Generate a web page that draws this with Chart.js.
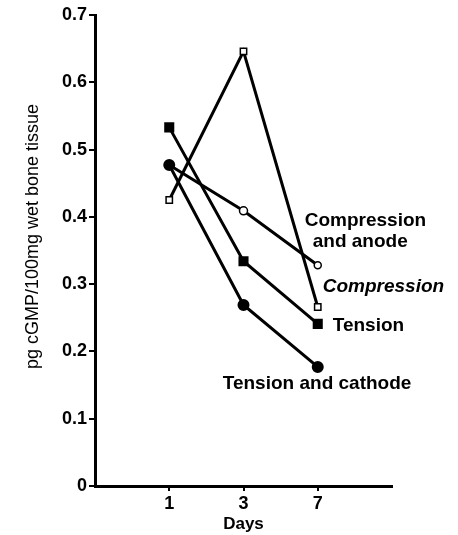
<!DOCTYPE html>
<html>
<head>
<meta charset="utf-8">
<script src="https://cdn.jsdelivr.net/npm/chart.js@4"></script>
<style>
  body { margin: 0; background: #fff; }
</style>
</head>
<body>
<canvas id="chart" width="458" height="535"></canvas>
<script>
// days after loading (plotted evenly spaced)
const days = ["1", "3", "7"];
const yTicks = [0, 0.1, 0.2, 0.3, 0.4, 0.5, 0.6, 0.7];

// pg cGMP / 100mg wet bone tissue
const compression = [0.425, 0.646, 0.266];
const compressionAnode = [0.477, 0.409, 0.328];
const tension = [0.533, 0.334, 0.241];
const tensionCathode = [0.477, 0.269, 0.177];

const yTitle = "pg cGMP/100mg wet bone tissue";

const toPoints = (arr) => arr.map((v, i) => ({ x: i + 1, y: v }));

const FONT = "'Liberation Sans', Arial, sans-serif";

// labels written next to the last point of each line
const lineLabels = [
  { ds: 1, lines: ["Compression", "and anode"], dx: [-13, -5], dy: [-45, -24], italic: false },
  { ds: 0, lines: ["Compression"], dx: [5], dy: [-20], italic: true },
  { ds: 2, lines: ["Tension"], dx: [15], dy: [2], italic: false },
  { ds: 3, lines: ["Tension and cathode"], dx: [-95], dy: [17], italic: false },
];

const labelPlugin = {
  id: "lineLabels",
  afterDatasetsDraw(chart) {
    const ctx = chart.ctx;
    ctx.save();
    ctx.fillStyle = "#000";
    ctx.textBaseline = "middle";
    ctx.textAlign = "left";
    lineLabels.forEach((lab) => {
      const meta = chart.getDatasetMeta(lab.ds);
      const last = meta.data[meta.data.length - 1];
      ctx.font = (lab.italic ? "italic " : "") + "bold 19px " + FONT;
      lab.lines.forEach((t, k) => {
        ctx.fillText(t, last.x + lab.dx[k], last.y + lab.dy[k]);
      });
    });
    // y axis title, a bit above the middle like in the original
    const area = chart.chartArea;
    ctx.font = "18px " + FONT;
    ctx.textAlign = "center";
    ctx.translate(33, (area.top + area.bottom) / 2 - 14);
    ctx.rotate(-Math.PI / 2);
    ctx.fillText(yTitle, 0, 0);
    ctx.restore();
  },
};

new Chart(document.getElementById("chart"), {
  type: "line",
  data: {
    datasets: [
      {
        label: "Compression",
        data: toPoints(compression),
        borderColor: "#000",
        borderWidth: 3,
        pointStyle: "rect",
        pointRadius: 4.5,
        pointBackgroundColor: "#fff",
        pointBorderColor: "#000",
        pointBorderWidth: 1.5,
      },
      {
        label: "Compression and anode",
        data: toPoints(compressionAnode),
        borderColor: "#000",
        borderWidth: 3,
        pointStyle: "circle",
        pointRadius: [0, 4, 3.5],
        pointBackgroundColor: "#fff",
        pointBorderColor: "#000",
        pointBorderWidth: 1.5,
      },
      {
        label: "Tension",
        data: toPoints(tension),
        borderColor: "#000",
        borderWidth: 3,
        pointStyle: "rect",
        pointRadius: 5,
        pointBackgroundColor: "#000",
        pointBorderColor: "#000",
      },
      {
        label: "Tension and cathode",
        data: toPoints(tensionCathode),
        borderColor: "#000",
        borderWidth: 3,
        pointStyle: "circle",
        pointRadius: 4.5,
        pointBackgroundColor: "#000",
        pointBorderColor: "#000",
      },
    ],
  },
  options: {
    responsive: false,
    animation: false,
    layout: { padding: { top: 15, right: 66, left: 0, bottom: 0 } },
    plugins: { legend: { display: false }, tooltip: { enabled: false } },
    scales: {
      x: {
        type: "linear",
        min: 0,
        max: 4,
        afterBuildTicks: (scale) => {
          scale.ticks = days.map((d, i) => ({ value: i + 1 }));
        },
        afterFit: (scale) => { scale.height = 49; },
        border: { color: "#000", width: 3 },
        grid: { drawOnChartArea: false, drawTicks: true, tickLength: 5, color: "#000", lineWidth: 2 },
        ticks: {
          color: "#000",
          padding: 2,
          font: { family: FONT, size: 18, weight: "bold" },
          callback: (v) => days[v - 1],
        },
        title: {
          display: true,
          text: "Days",
          color: "#000",
          padding: { top: 0, bottom: 0 },
          font: { family: FONT, size: 17, weight: "bold" },
        },
      },
      y: {
        min: 0,
        max: 0.7,
        afterBuildTicks: (scale) => {
          scale.ticks = yTicks.map((v) => ({ value: v }));
        },
        afterFit: (scale) => { scale.width = 95; },
        border: { color: "#000", width: 3 },
        grid: { drawOnChartArea: false, drawTicks: true, tickLength: 6, color: "#000", lineWidth: 2 },
        ticks: {
          color: "#000",
          padding: 2,
          font: { family: FONT, size: 18, weight: "bold" },
          callback: (v) => (v === 0 ? "0" : v.toFixed(1)),
        },
      },
    },
  },
  plugins: [labelPlugin],
});
</script>
</body>
</html>
